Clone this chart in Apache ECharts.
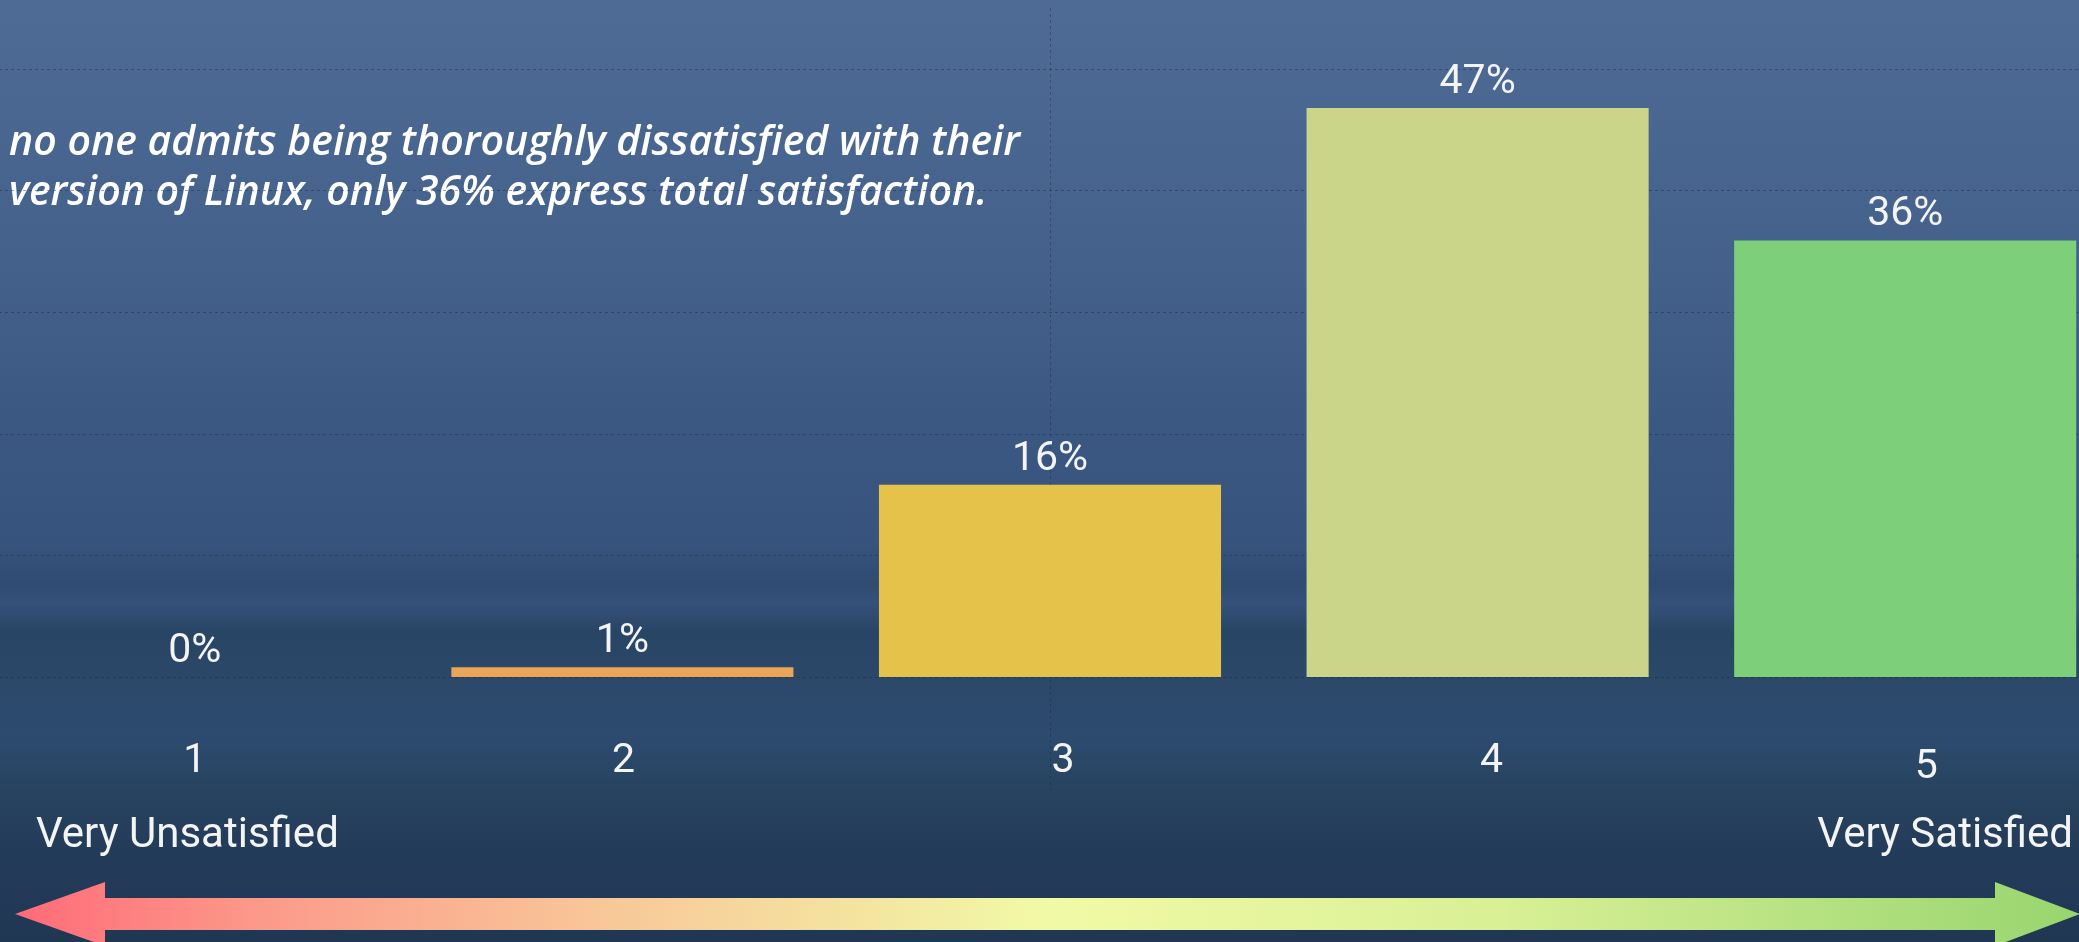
<!DOCTYPE html>
<html>
<head>
<meta charset="utf-8">
<script src="https://cdn.jsdelivr.net/npm/echarts@6/dist/echarts.min.js"></script>
<style>
html,body{margin:0;padding:0;background:#2c4a70;overflow:hidden;width:2079px;height:942px;}
#chart{position:absolute;left:-19px;top:0;width:2138px;height:942px;}
</style>
</head>
<body>
<div id="chart"></div>
<script>
// ---- data ----
const categories = ['1', '2', '3', '4', '5'];
const values = [0, 0.8, 15.8, 46.8, 35.9];
const barColors = ['#f07a70', '#eba458', '#e5c249', '#cbd589', '#7dcf79'];
const annotation = 'no one admits being thoroughly dissatisfied with their\nversion of Linux, only 36% express total satisfaction.';
const leftEndLabel = 'Very Unsatisfied';
const rightEndLabel = 'Very Satisfied';

const OFF = 19; // the chart canvas starts 19px left of the page
const chart = echarts.init(document.getElementById('chart'), null, {renderer: 'canvas'});

const labelFont = 'Roboto, "Noto Sans", sans-serif';
const richShift = {
  c0: {padding: [0, 0, 0, 0]},
  c1: {padding: [0, 0, 0, 2]},
  c2: {padding: [0, 0, 0, 26]},
  c3: {padding: [0, 0, 0, 28]},
  c4: {padding: [12, 0, 0, 42]}
};
Object.keys(richShift).forEach(k => {
  Object.assign(richShift[k], {fontFamily: labelFont, fontSize: 41, color: '#f4f4f4', lineHeight: 41});
});

const option = {
  backgroundColor: {
    type: 'linear', x: 0, y: 0, x2: 0, y2: 1,
    colorStops: [
      {offset: 0.00, color: '#4e6b95'},
      {offset: 0.12, color: '#4a6791'},
      {offset: 0.30, color: '#42608a'},
      {offset: 0.45, color: '#3b5883'},
      {offset: 0.58, color: '#36537d'},
      {offset: 0.62, color: '#2f4b72'},
      {offset: 0.64, color: '#34517a'},
      {offset: 0.67, color: '#294566'},
      {offset: 0.72, color: '#2b4869'},
      {offset: 0.78, color: '#2c4b6f'},
      {offset: 0.84, color: '#27435f'},
      {offset: 0.90, color: '#233c5a'},
      {offset: 1.00, color: '#203754'}
    ]
  },
  animation: false,
  grid: {left: 0, right: 0, top: 69, bottom: 265, containLabel: false},
  xAxis: {
    type: 'category',
    data: categories,
    axisLine: {show: false},
    axisTick: {show: false},
    axisLabel: {
      margin: 64,
      formatter: (v, i) => '{c' + i + '|' + v + '}',
      rich: richShift
    }
  },
  yAxis: {
    type: 'value',
    min: 0, max: 50, interval: 10,
    axisLine: {show: false},
    axisTick: {show: false},
    axisLabel: {show: false},
    splitLine: {show: true, lineStyle: {color: 'rgba(25,40,65,0.42)', type: [3, 3], width: 1}}
  },
  series: [{
    type: 'bar',
    data: values.map((v, i) => ({value: v, itemStyle: {color: barColors[i]}})),
    barWidth: '80%',
    label: {
      show: true,
      position: 'top',
      distance: 5,
      formatter: p => Math.round(p.value) + '%',
      fontFamily: labelFont,
      fontSize: 41,
      color: '#f4f4f4'
    }
  }],
  graphic: [
    {
      type: 'line', z: -1, silent: true,
      shape: {x1: 1050.5 + OFF, y1: 8, x2: 1050.5 + OFF, y2: 790},
      style: {stroke: 'rgba(25,40,65,0.4)', lineWidth: 1, lineDash: [3, 3]}
    },
    {
      type: 'text', silent: true,
      style: {
        x: 9 + OFF, y: 118, text: annotation,
        fontFamily: '"Open Sans", sans-serif',
        fontStyle: 'italic', fontWeight: 600,
        fontSize: 41, lineHeight: 50,
        fill: '#ffffff', align: 'left', verticalAlign: 'top'
      }
    },
    {
      type: 'text', silent: true,
      style: {
        x: 36 + OFF, y: 815, text: leftEndLabel,
        fontFamily: labelFont, fontSize: 42, fill: '#f4f4f4',
        align: 'left', verticalAlign: 'top'
      }
    },
    {
      type: 'text', silent: true,
      style: {
        x: 2073 + OFF, y: 815, text: rightEndLabel,
        fontFamily: labelFont, fontSize: 42, fill: '#f4f4f4',
        align: 'right', verticalAlign: 'top'
      }
    },
    {
      type: 'polygon', silent: true,
      shape: {
        points: [[15 + OFF, 914], [105 + OFF, 882], [105 + OFF, 898], [1995 + OFF, 898], [1995 + OFF, 882],
                 [2080 + OFF, 914], [1995 + OFF, 946], [1995 + OFF, 930], [105 + OFF, 930], [105 + OFF, 946]]
      },
      style: {
        fill: {
          type: 'linear', x: 0, y: 0, x2: 1, y2: 0,
          colorStops: [
            {offset: 0.00, color: '#ff6b78'},
            {offset: 0.12, color: '#fc9a8a'},
            {offset: 0.28, color: '#f8c698'},
            {offset: 0.50, color: '#f1faa6'},
            {offset: 0.72, color: '#d9f095'},
            {offset: 1.00, color: '#98d56f'}
          ]
        }
      }
    }
  ]
};
chart.setOption(option);
</script>
</body>
</html>
